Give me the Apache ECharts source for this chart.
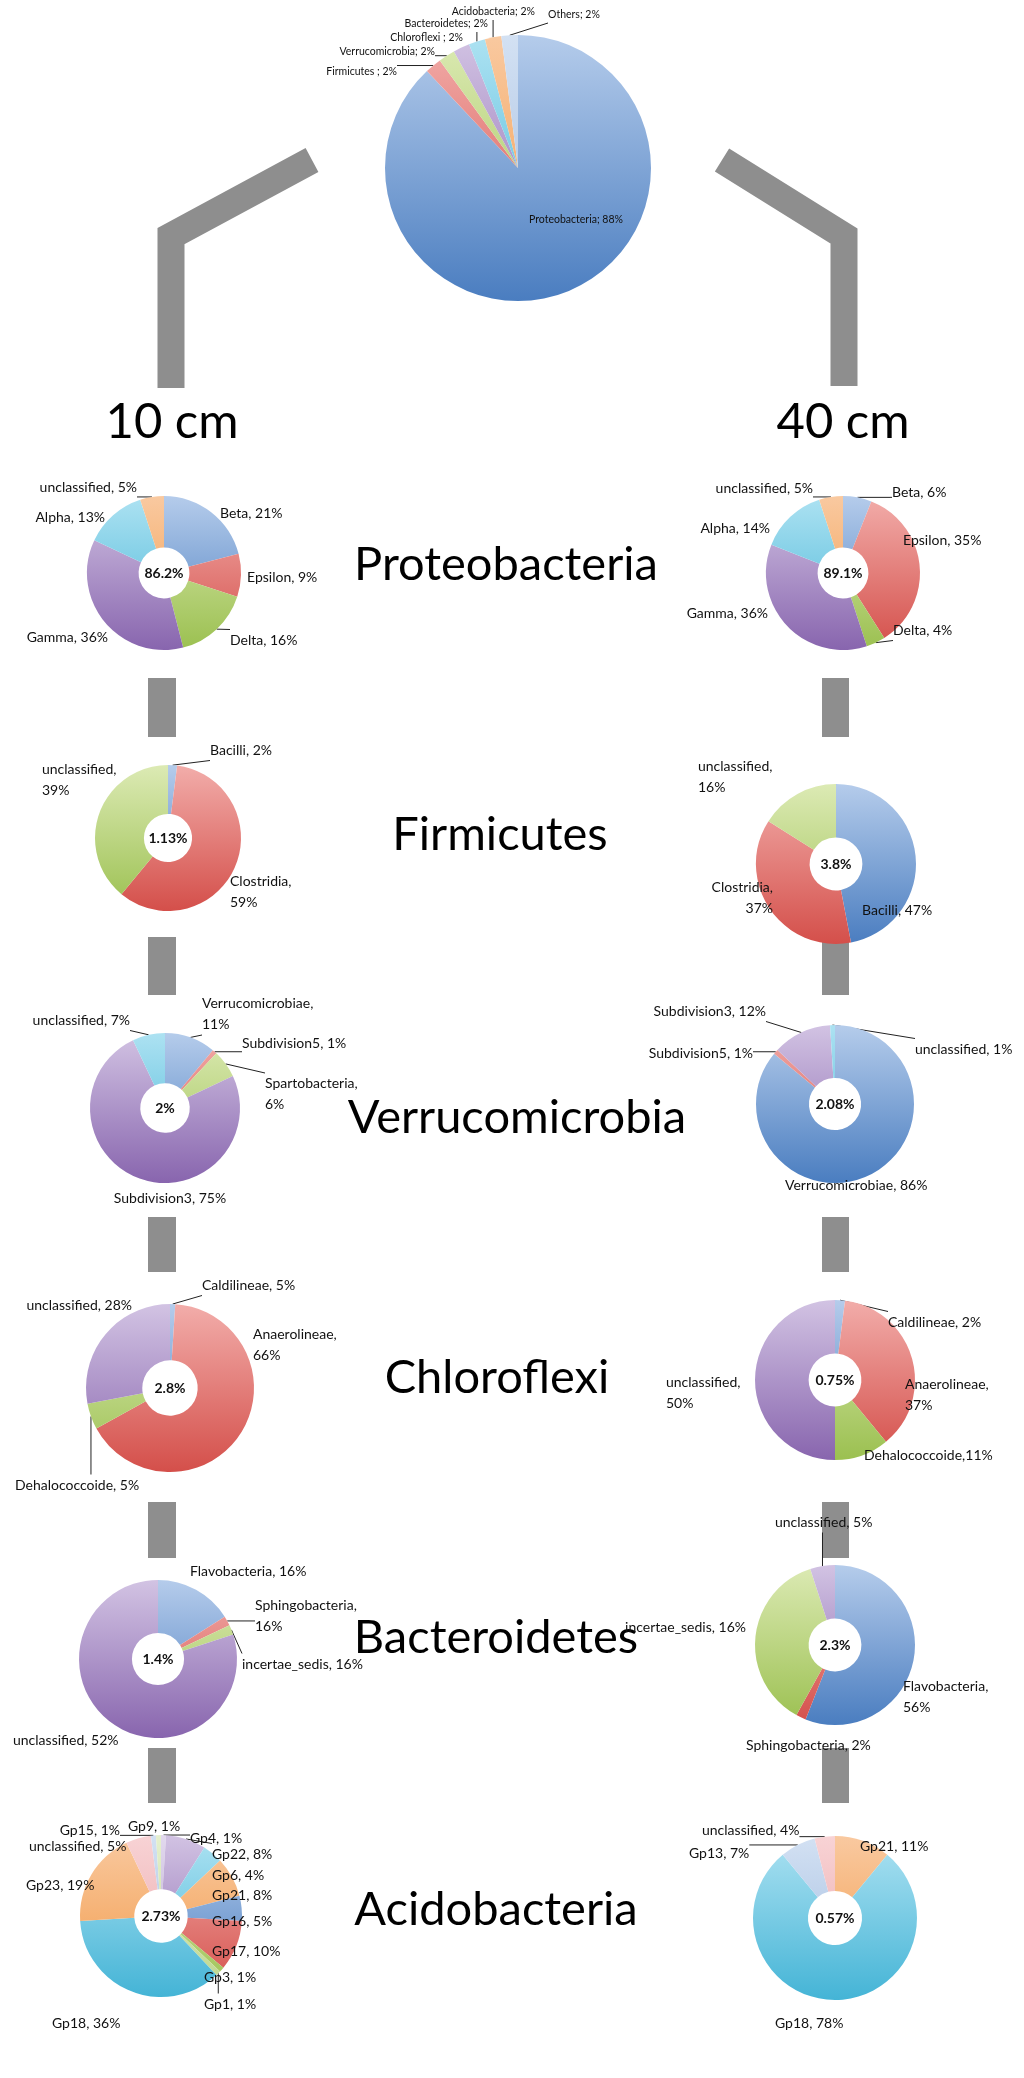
<!DOCTYPE html>
<html><head><meta charset="utf-8">
<script src="https://cdn.jsdelivr.net/npm/echarts@6/dist/echarts.min.js"></script>
<style>html,body{margin:0;padding:0;background:#fff}#c{width:1024px;height:2078px}</style>
</head><body><div id="c"></div>
<script>
// ---------- DATA ----------
const topNames = ['Proteobacteria','Firmicutes ','Verrucomicrobia','Chloroflexi ','Bacteroidetes','Acidobacteria','Others'];
const topValues = [88,2,2,2,2,2,2];

const proteoNames = ['Beta','Epsilon','Delta','Gamma','Alpha','unclassified'];
const proteo10 = [21,9,16,36,13,5];
const proteo40 = [6,35,4,36,14,5];

const firmNames = ['Bacilli','Clostridia','unclassified'];
const firm10 = [2,59,39];
const firm40 = [47,37,16];

const verrNames10 = ['Verrucomicrobiae','Subdivision5','Spartobacteria','Subdivision3','unclassified'];
const verr10 = [11,1,6,75,7];
const verrNames40 = ['Verrucomicrobiae','Subdivision5','Subdivision3','unclassified'];
const verr40 = [86,1,12,1];

const chloNames = ['Caldilineae','Anaerolineae','Dehalococcoide','unclassified'];
const chlo10 = [1,66,5,28];
const chlo10Labels = [5,66,5,28];
const chlo40 = [2,37,11,50];
const chlo40Labels = [2,37,11,50];

const bactNames = ['Flavobacteria','Sphingobacteria','incertae_sedis','unclassified'];
const bact10 = [16,2,2,80];
const bact10Labels = [16,16,16,52];
const bact40 = [56,2,37,5];
const bact40Labels = [56,2,16,5];

const acidoNames10 = ['Gp4','Gp22','Gp6','Gp21','Gp16','Gp17','Gp3','Gp1','Gp18','Gp23','unclassified','Gp15','Gp9'];
const acido10 = [1,8,4,8,5,10,1,1,36,19,5,1,1];
const acidoNames40 = ['Gp21','Gp18','Gp13','unclassified'];
const acido40 = [11,78,7,4];

const groupTitles = ['Proteobacteria','Firmicutes','Verrucomicrobia','Chloroflexi','Bacteroidetes','Acidobacteria'];
const totals10 = ['86.2%','1.13%','2%','2.8%','1.4%','2.73%'];
const totals40 = ['89.1%','3.8%','2.08%','0.75%','2.3%','0.57%'];

// ---------- STYLE / LAYOUT ----------
const PAL = {
  blue:['#B5CCEB','#4A7DC0'], red:['#F2ADAA','#D44F4A'], green:['#DCEAB4','#9BC050'],
  purple:['#D2C3E3','#8865AE'], aqua:['#ADE2F2','#44B4D6'], orange:['#F9C9A0','#F29A48'],
  lblue:['#D3E1F3','#9DB8DD'], pink:['#F8D3D5','#E9A3A6'], lgreen:['#E6F0CF','#BCD68A'],
  lpurple:['#E2D9EE','#B3A0CF'], laqua:['#CFEFF8','#8FD1E6'], lorange:['#FBDDC3','#F7B987']
};
const FONT = 'Lato, "Open Sans", sans-serif';

const L = {
  top:{cx:518, cy:168, r:133},
  rows:[
    {l:{cx:164,cy:573,r:77}, rr:{cx:843,cy:573,r:77}},
    {l:{cx:168,cy:838,r:73}, rr:{cx:836,cy:864,r:80}},
    {l:{cx:165,cy:1108,r:75}, rr:{cx:835,cy:1104,r:79}},
    {l:{cx:170,cy:1388,r:84}, rr:{cx:835,cy:1380,r:80}},
    {l:{cx:158,cy:1659,r:79}, rr:{cx:835,cy:1645,r:80}},
    {l:{cx:161,cy:1916,r:81}, rr:{cx:835,cy:1918,r:82}}
  ]
};
// label placements: [x, y, align, showLeader]
const LP = [
  [[576,220,'center',0],[397,72,'right',1],[435,52,'right',1],[463,38,'right',0],[488,24,'right',1],[535,12,'right',1],[548,15,'left',1]],
  [[220,513,'left',0],[247,577,'left',0],[230,640,'left',1],[108,637,'right',0],[105,517,'right',0],[137,487,'right',1]],
  [[892,492,'left',1],[903,540,'left',0],[893,630,'left',1],[768,613,'right',0],[770,528,'right',0],[813,488,'right',1]],
  [[210,750,'left',1],[230,892,'left',0],[42,780,'left',0]],
  [[862,910,'left',0],[773,898,'right',0],[698,777,'left',0]],
  [[202,1014,'left',1],[242,1043,'left',1],[265,1094,'left',1],[170,1198,'center',0],[130,1020,'right',1]],
  [[785,1185,'left',0],[753,1053,'right',1],[766,1011,'right',1],[915,1049,'left',1]],
  [[202,1285,'left',1],[253,1345,'left',0],[15,1485,'left',1],[132,1305,'right',0]],
  [[888,1322,'left',1],[905,1395,'left',0],[864,1455,'left',0],[666,1393,'left',0]],
  [[190,1571,'left',0],[255,1616,'left',1],[242,1664,'left',1],[13,1740,'left',0]],
  [[903,1697,'left',0],[746,1745,'left',0],[746,1627,'right',0],[775,1522,'left',1]],
  [[190,1838,'left',1],[212,1854,'left',1],[212,1875,'left',1],[212,1895,'left',0],[212,1921,'left',0],[212,1951,'left',0],[204,1977,'left',1],[204,2004,'left',1],[52,2023,'left',0],[26,1885,'left',0],[29,1846,'left',0],[120,1830,'right',1],[128,1826,'left',1]],
  [[860,1846,'left',1],[775,2023,'left',0],[689,1853,'left',1],[702,1830,'left',1]]
];
// explicit line breaks [seriesIndex-dataIndex]
const WRAP = {'3-1':1,'3-2':1,'4-1':1,'4-2':1,'5-0':1,'5-2':1,'7-1':1,'8-1':1,'8-3':1,'9-1':1,'10-0':1};

function grad(key, cy, r){
  return {type:'linear', x:0, y:cy-r, x2:0, y2:cy+r, global:true,
    colorStops:[{offset:0,color:PAL[key][0]},{offset:1,color:PAL[key][1]}]};
}

const series = [];
const graphics = [];

function addPie(names, values, labelPct, colors, g, opts){
  opts = opts || {};
  const si = series.length;
  const data = names.map((n,i)=>{
    const sep = opts.sep || ', ';
    let txt = n + (WRAP[si+'-'+i] ? ',\n' : sep) + labelPct[i] + '%';
    if (opts.custom && opts.custom[i]) txt = opts.custom[i];
    const lp = LP[si][i];
    return {
      name:n, value:values[i],
      itemStyle:{color:grad(colors[i], g.cy, g.r)},
      label:{formatter: txt, position: lp[2]==='center' && si===0 ? 'inside' : 'outside'},
      labelLine:{show: !!lp[3]}
    };
  });
  series.push({
    type:'pie', center:[g.cx,g.cy], radius:[opts.hole===0?0:g.r*0.33, g.r], startAngle:90, clockwise:true,
    avoidLabelOverlap:false, silent:true, animation:false,
    label:{show:true, color:'#111', fontFamily:FONT, fontSize:opts.fs||14, lineHeight:Math.round((opts.fs||14)*1.5), alignTo:'none', overflow:'none'},
    labelLine:{length:6, length2:4, lineStyle:{color:'#222', width:1}},
    labelLayout: function(p){
      const lp = LP[si][p.dataIndex];
      const w = p.labelRect.width, h = p.labelRect.height;
      const rx = lp[2]==='left' ? lp[0] : (lp[2]==='right' ? lp[0]-w : lp[0]-w/2);
      const ry = lp[1]-h/2;
      const out = {x:lp[0], y:lp[1], align:lp[2], verticalAlign:'middle'};
      if (p.labelLinePoints && p.labelLinePoints.length) {
        const p0 = p.labelLinePoints[0];
        const nx = Math.max(rx, Math.min(rx+w, p0[0]));
        const ny = Math.max(ry, Math.min(ry+h, p0[1]));
        out.labelLinePoints = [p0, [nx, ny]];
      }
      return out;
    },
    itemStyle:{borderWidth:0},
    data: data
  });
}

// top pie
addPie(topNames, topValues, topValues, ['blue','red','green','purple','aqua','orange','lblue'], L.top, {hole:0, fs:10.5, sep:'; '});

const R = L.rows;
addPie(proteoNames, proteo10, proteo10, ['blue','red','green','purple','aqua','orange'], R[0].l);
addPie(proteoNames, proteo40, proteo40, ['blue','red','green','purple','aqua','orange'], R[0].rr);
addPie(firmNames, firm10, firm10, ['blue','red','green'], R[1].l);
addPie(firmNames, firm40, firm40, ['blue','red','green'], R[1].rr);
addPie(verrNames10, verr10, verr10, ['blue','red','green','purple','aqua'], R[2].l);
addPie(verrNames40, verr40, verr40, ['blue','red','purple','aqua'], R[2].rr);
addPie(chloNames, chlo10, chlo10Labels, ['blue','red','green','purple'], R[3].l);
addPie(chloNames, chlo40, chlo40Labels, ['blue','red','green','purple'], R[3].rr, {custom:{2:'Dehalococcoide,11%'}});
addPie(bactNames, bact10, bact10Labels, ['blue','red','green','purple'], R[4].l);
addPie(bactNames, bact40, bact40Labels, ['blue','red','green','purple'], R[4].rr);
addPie(acidoNames10, acido10, acido10, ['lpurple','purple','aqua','orange','blue','red','green','lgreen','aqua','orange','pink','lblue','lgreen'], R[5].l);
addPie(acidoNames40, acido40, acido40, ['orange','aqua','lblue','pink'], R[5].rr);

// center totals
R.forEach((row,k)=>{
  graphics.push({type:'text', x:row.l.cx, y:row.l.cy, style:{text:totals10[k], fontFamily:FONT, fontWeight:'bold', fontSize:14, fill:'#111', textAlign:'center', textVerticalAlign:'middle'}, z:10});
  graphics.push({type:'text', x:row.rr.cx, y:row.rr.cy, style:{text:totals40[k], fontFamily:FONT, fontWeight:'bold', fontSize:14, fill:'#111', textAlign:'center', textVerticalAlign:'middle'}, z:10});
});

// group titles
const titlePos = [[506,565],[500,835],[517,1118],[497,1378],[496,1638],[496,1910]];
groupTitles.forEach((t,k)=>{
  graphics.push({type:'text', x:titlePos[k][0], y:titlePos[k][1], style:{text:t, fontFamily:FONT, fontSize:47, fill:'#000', textAlign:'center', textVerticalAlign:'middle'}});
});
graphics.push({type:'text', x:172, y:422, style:{text:'10 cm', fontFamily:FONT, fontSize:49, fill:'#000', textAlign:'center', textVerticalAlign:'middle'}});
graphics.push({type:'text', x:843, y:422, style:{text:'40 cm', fontFamily:FONT, fontSize:49, fill:'#000', textAlign:'center', textVerticalAlign:'middle'}});

// connectors
const GRAY = '#8E8E8E';
graphics.push({type:'polyline', shape:{points:[[312,160],[171,236],[171,388]]}, style:{stroke:GRAY, lineWidth:27, fill:null, lineJoin:'miter', lineCap:'butt'}});
graphics.push({type:'polyline', shape:{points:[[722,160],[844,236],[844,386]]}, style:{stroke:GRAY, lineWidth:27, fill:null, lineJoin:'miter', lineCap:'butt'}});
const barsL = [[678,737],[937,995],[1217,1272],[1502,1558],[1748,1803]];
barsL.forEach(b=>{
  graphics.push({type:'rect', shape:{x:148,y:b[0],width:28,height:b[1]-b[0]}, style:{fill:GRAY}});
  graphics.push({type:'rect', shape:{x:822,y:b[0],width:27,height:b[1]-b[0]}, style:{fill:GRAY}});
});

const chart = echarts.init(document.getElementById('c'), null, {renderer:'canvas'});
chart.setOption({animation:false, backgroundColor:'#fff', series:series, graphic:graphics});
</script></body></html>
